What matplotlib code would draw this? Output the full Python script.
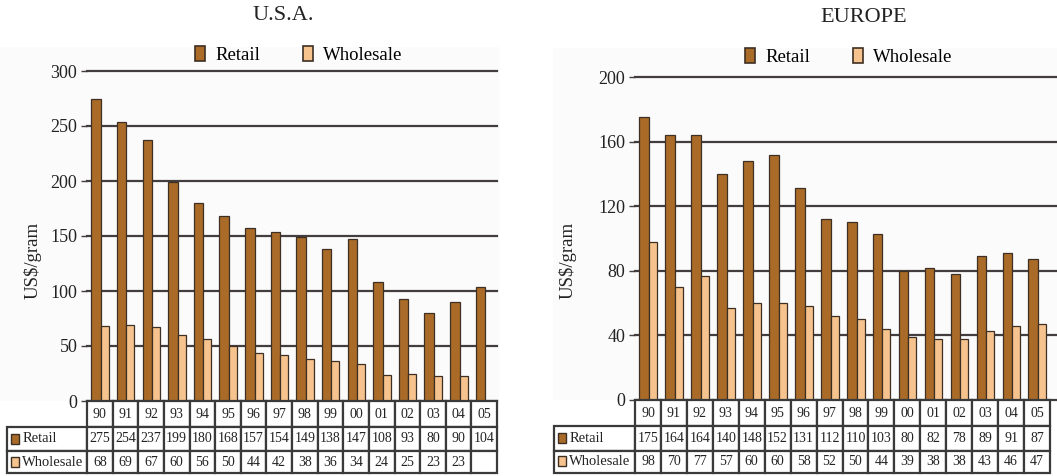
import numpy as np
import matplotlib
matplotlib.use("Agg")
import matplotlib.pyplot as plt
from matplotlib.patches import Patch, Rectangle
from matplotlib.table import Table

SERIF = ['Liberation Serif', 'DejaVu Serif']
plt.rcParams['font.family'] = SERIF

# Prices in US$/gram, 1990-2005
years = ['90', '91', '92', '93', '94', '95', '96', '97',
         '98', '99', '00', '01', '02', '03', '04', '05']
usa_retail = [275, 254, 237, 199, 180, 168, 157, 154, 149, 138, 147, 108, 93, 80, 90, 104]
usa_wholesale = [68, 69, 67, 60, 56, 50, 44, 42, 38, 36, 34, 24, 25, 23, 23, None]
eu_retail = [175, 164, 164, 140, 148, 152, 131, 112, 110, 103, 80, 82, 78, 89, 91, 87]
eu_wholesale = [98, 70, 77, 57, 60, 60, 58, 52, 50, 44, 39, 38, 38, 43, 46, 47]
series_names = ['Retail', 'Wholesale']

RETAIL_C = '#a96b27'
WHOLE_C = '#f6c28d'
EDGE_C = '#3e2f24'
GRID_C = '#433d3d'
TEXT_C = '#222222'

W, H = 1057, 476
fig = plt.figure(figsize=(W / 100, H / 100), dpi=100)


def px_box(x0, y0, x1, y1):
    return [x0 / W, 1 - y1 / H, (x1 - x0) / W, (y1 - y0) / H]


def draw_panel(title, retail, wholesale, ymax, ystep, plot_px, table_px,
               label_w, title_xy, legend_xy, ylabel_x, bg_px, extra_right=0.0):
    # faint chart-area background
    bx0, by0, bx1, by1 = bg_px
    fig.add_artist(Rectangle((bx0 / W, 1 - by1 / H), (bx1 - bx0) / W, (by1 - by0) / H,
                             facecolor='#fbfbfb', edgecolor='none',
                             transform=fig.transFigure, zorder=-1))

    ax = fig.add_axes(px_box(*plot_px))
    x = np.arange(len(years))
    whole = np.array([np.nan if v is None else v for v in wholesale], dtype=float)
    ax.bar(x - 0.33, retail, width=0.37, align='edge', color=RETAIL_C,
           edgecolor=EDGE_C, linewidth=0.9, zorder=3)
    ax.bar(x + 0.04, whole, width=0.31, align='edge', color=WHOLE_C,
           edgecolor=EDGE_C, linewidth=0.9, zorder=3)
    ax.set_xlim(-0.5, len(years) - 0.5 + extra_right)
    ax.set_ylim(0, ymax)
    ax.set_yticks(np.arange(0, ymax + 1, ystep))
    ax.set_xticks([])
    ax.yaxis.grid(True, color=GRID_C, linewidth=1.6)
    for gl in ax.get_ygridlines():
        gl.set_clip_on(False)
    ax.set_axisbelow(True)
    for s in ax.spines.values():
        s.set_visible(False)
    ax.tick_params(axis='y', length=4, width=1, color=GRID_C, labelsize=13,
                   pad=3, labelcolor=TEXT_C)
    ax.patch.set_alpha(0)

    fig.text(title_xy[0] / W, 1 - title_xy[1] / H, title, ha='center',
             va='center', fontsize=16, color=TEXT_C)
    fig.text(ylabel_x / W, 1 - 260 / H, 'US$/gram', rotation=90, ha='center',
             va='center', fontsize=13.5, color=TEXT_C)

    handles = [Patch(facecolor=RETAIL_C, edgecolor=EDGE_C, linewidth=1.2),
               Patch(facecolor=WHOLE_C, edgecolor=EDGE_C, linewidth=1.2)]
    fig.legend(handles, series_names, loc='center', ncol=2, frameon=False,
               bbox_to_anchor=(legend_xy[0] / W, 1 - legend_xy[1] / H),
               prop={'family': SERIF, 'size': 13.5}, handlelength=0.55,
               handleheight=0.8, handletextpad=0.55, columnspacing=2.25)

    # Data table under the bars; the axes covers only the year columns,
    # the row-label column hangs off its left side
    tx0, ty0, tx1, ty1 = table_px
    data_x0 = tx0 + label_w
    tax = fig.add_axes(px_box(data_x0, ty0, tx1, ty1))
    tax.axis('off')
    tb = Table(tax, bbox=[0, 0, 1, 1])
    col_w = 1 / len(years)
    lab_w = label_w / (tx1 - data_x0)
    row_h = [26, 24, 22]
    row_f = [h / sum(row_h) for h in row_h]
    for j, yr in enumerate(years):
        tb.add_cell(0, j, width=col_w, height=row_f[0], text=yr, loc='center')
    rows = [retail, wholesale]
    for i, (name, vals) in enumerate(zip(series_names, rows), start=1):
        c = tb.add_cell(i, -1, width=lab_w, height=row_f[i], text=name, loc='left')
        c.PAD = 0.19
        for j, v in enumerate(vals):
            tb.add_cell(i, j, width=col_w, height=row_f[i],
                        text='' if v is None else str(v), loc='center')
    tb.auto_set_font_size(False)
    for (r, cidx), cell in tb.get_celld().items():
        cell.set_edgecolor('#3a3a3a')
        cell.set_linewidth(1.6)
        cell.set_clip_on(False)
        txt = cell.get_text()
        txt.set_color(TEXT_C)
        txt.set_fontfamily(SERIF)
        txt.set_fontsize(10.5 if cidx < 0 else 10)
    tax.add_table(tb)

    # colour keys in the row-label cells
    ytop = ty0 + row_h[0]
    for i, col in enumerate([RETAIL_C, WHOLE_C]):
        cy = ytop + sum(row_h[1:i + 1]) + row_h[i + 1] / 2
        fig.add_artist(Rectangle(((tx0 + 4) / W, 1 - (cy + 5) / H), 8 / W, 10 / H,
                                 facecolor=col, edgecolor=EDGE_C, linewidth=1.0,
                                 transform=fig.transFigure, zorder=5))
    return ax


draw_panel('U.S.A.', usa_retail, usa_wholesale, 300, 50,
           plot_px=(87, 71, 497, 401), table_px=(7, 401, 497, 473), label_w=80,
           title_xy=(283, 16), legend_xy=(299, 55), ylabel_x=33,
           bg_px=(0, 47, 499, 401))

slot = (1050 - 635) / len(years)
draw_panel('EUROPE', eu_retail, eu_wholesale, 200, 40,
           plot_px=(635, 77, 1057, 400), table_px=(554, 400, 1050, 473), label_w=81,
           title_xy=(864, 17), legend_xy=(849, 57), ylabel_x=568,
           bg_px=(553, 48, 1057, 400), extra_right=7 / slot)

fig.savefig('out.png', dpi=100, facecolor='white')
